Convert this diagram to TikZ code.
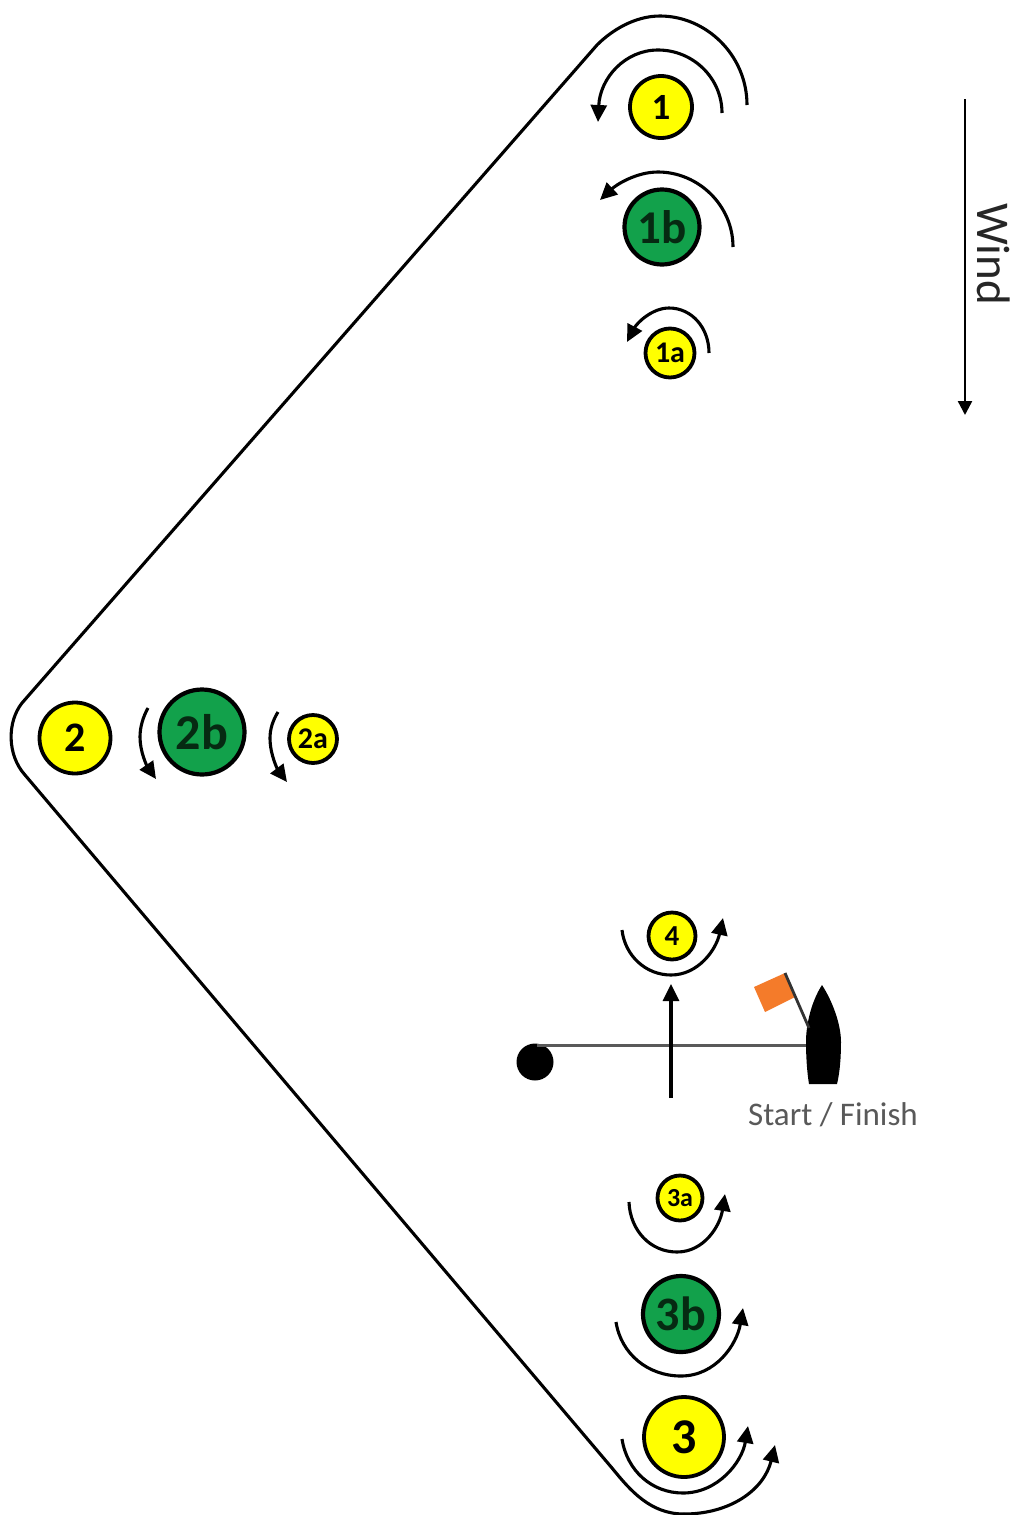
\documentclass[tikz,border=0pt]{standalone}
\usepackage{fontspec}
\setmainfont{Carlito}
\usetikzlibrary{arrows.meta}
\definecolor{mk}{HTML}{FFFF00}
\definecolor{gk}{HTML}{12A14B}
\definecolor{gt}{HTML}{062A12}
\definecolor{fl}{HTML}{F47B2A}
\tikzset{
  ymark/.style={circle,draw=black,fill=mk,line width=3.8pt,inner sep=0pt,font=\bfseries},
  gmark/.style={circle,draw=black,fill=gk,line width=4.2pt,inner sep=0pt,text=gt,font=\bfseries},
  turn/.style={line width=3.1pt,-{Triangle[length=17pt,width=16pt]}},
  course/.style={line width=3.1pt,line join=round},
  thin arrow/.style={line width=2.4pt,-{Triangle[length=14pt,width=14pt]}}
}
\newcommand{\fs}[1]{\fontsize{#1}{#1}\selectfont}
\begin{document}
\begin{tikzpicture}[x=1pt,y=-1pt]
\useasboundingbox[fill=white] (0,0) rectangle (1013,1515);
% marks
\node[ymark,minimum size=62pt] (m1) at (661,107) {\fs{37}1};
\node[gmark,minimum size=75pt] (m1b) at (662,227) {\fs{47}1b};
\node[ymark,minimum size=49pt] (m1a) at (670,353) {\fs{30}1a};
\node[ymark,minimum size=71pt] (m2) at (75,738) {\fs{42}2};
\node[gmark,minimum size=85pt] (m2b) at (202,732) {\fs{50}2b};
\node[ymark,minimum size=48pt] (m2a) at (313,739) {\fs{30}2a};
\node[ymark,minimum size=47pt] (m4) at (672,936) {\fs{29}4};
\node[ymark,minimum size=45pt] (m3a) at (680,1198) {\fs{26}3a};
\node[gmark,minimum size=76pt] (m3b) at (681,1314) {\fs{48}3b};
\node[ymark,minimum size=80pt] (m3) at (684,1437) {\fs{50}3};
% course
\coordinate (cs) at (747,105);
\coordinate (ctop) at (660,16);
\coordinate (ca) at (597,45);
\coordinate (cb) at (22,703);
\coordinate (cc) at (25,775);
\coordinate (cd) at (612,1468);
\coordinate (cbot) at (684,1514);
\coordinate (ce) at (775,1445);
\draw[course] (cs) .. controls (747,55) and (706,16) .. (ctop)
  .. controls (635,16) and (612,30) .. (ca) -- (cb)
  .. controls (7,722) and (7,755) .. (cc) -- (cd)
  .. controls (630,1490) and (650,1514) .. (cbot);
\draw[turn] (cbot) .. controls (730,1514) and (764,1490) .. (ce);
% turn arrows
\coordinate (a1s) at (722,113); \coordinate (a1t) at (658,50); \coordinate (a1e) at (598,122);
\draw[turn] (a1s) .. controls (722,78) and (693,50) .. (a1t) .. controls (625,50) and (600,78) .. (a1e);
\coordinate (b1s) at (733,247); \coordinate (b1t) at (658,172); \coordinate (b1e) at (600,200);
\draw[turn] (b1s) .. controls (733,205) and (698,172) .. (b1t) .. controls (636,172) and (616,185) .. (b1e);
\coordinate (c1s) at (709,353); \coordinate (c1t) at (669,308); \coordinate (c1e) at (627,342);
\draw[turn] (c1s) .. controls (709,328) and (692,308) .. (c1t) .. controls (652,308) and (637,323) .. (c1e);
\coordinate (a2s) at (148,708); \coordinate (a2m) at (140,737); \coordinate (a2e) at (156,779);
\draw[turn] (a2s) .. controls (143,717) and (140,727) .. (a2m) .. controls (140,752) and (147,766) .. (a2e);
\coordinate (b2s) at (278,712); \coordinate (b2m) at (270,738); \coordinate (b2e) at (287,782);
\draw[turn] (b2s) .. controls (273,720) and (270,729) .. (b2m) .. controls (270,755) and (278,770) .. (b2e);
\coordinate (a4s) at (622,930); \coordinate (a4b) at (671,975); \coordinate (a4e) at (723,918);
\draw[turn] (a4s) .. controls (625,956) and (646,975) .. (a4b) .. controls (698,975) and (716,950) .. (a4e);
\coordinate (s1) at (671,1098); \coordinate (s2) at (671,984);
% start line
\node[circle,fill=black,inner sep=0pt,minimum size=37pt] (ball) at (535,1062) {};
\coordinate (lineA) at (537,1045);
\coordinate (lineB) at (808,1045);
\draw[line width=3pt,color=black!65] (lineA) -- (lineB);
\draw[turn] (s1) -- (s2);
\coordinate (a3s) at (629,1202); \coordinate (a3b) at (677,1252); \coordinate (a3e) at (725,1194);
\draw[turn] (a3s) .. controls (630,1230) and (650,1252) .. (a3b) .. controls (704,1252) and (720,1226) .. (a3e);
\coordinate (b3s) at (616,1322); \coordinate (b3b) at (681,1376); \coordinate (b3e) at (743,1308);
\draw[turn] (b3s) .. controls (621,1354) and (648,1376) .. (b3b) .. controls (716,1376) and (737,1344) .. (b3e);
\coordinate (c3s) at (622,1439); \coordinate (c3b) at (683,1493); \coordinate (c3e) at (748,1426);
\draw[turn] (c3s) .. controls (627,1471) and (652,1493) .. (c3b) .. controls (718,1493) and (742,1462) .. (c3e);
% committee boat
\coordinate (bow) at (822,985);
\fill[black] (bow) .. controls (811,1002) and (806,1025) .. (806,1042)
  .. controls (806,1056) and (807,1072) .. (809,1084)
  -- (837,1084) .. controls (840,1072) and (841,1056) .. (841,1042)
  .. controls (841,1025) and (833,1002) .. (bow) -- cycle;
\coordinate (poleT) at (785,973);
\coordinate (poleB) at (809,1028);
\fill[fl] (754,987) -- (poleT) -- (795,997) -- (765,1012) -- cycle;
\draw[line width=2.8pt,color=black!80] (poleT) -- (poleB);
\node[text=black!65,inner sep=0pt] (sf) at (833,1115) {\fs{33}Start / Finish};
% wind
\coordinate (w1) at (965,99);
\coordinate (w2) at (965,415);
\draw[thin arrow] (w1) -- (w2);
\node[rotate=-90,inner sep=0pt,text=black!85] (wind) at (994,254) {\fs{47}Wind};
\end{tikzpicture}
\end{document}
